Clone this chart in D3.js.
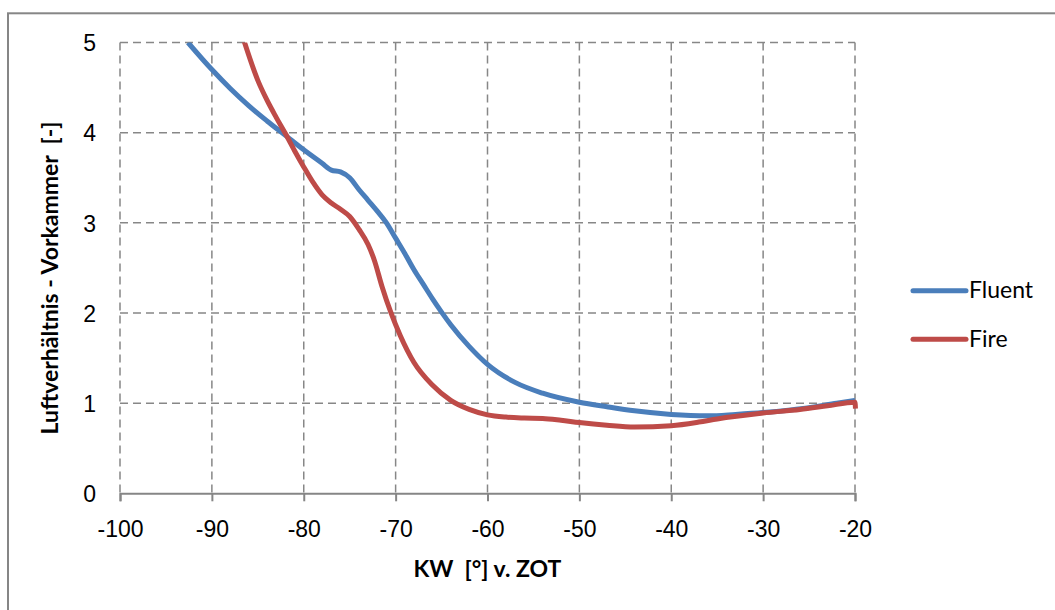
<!DOCTYPE html>
<html>
<head>
<meta charset="utf-8">
<script src="https://cdn.jsdelivr.net/npm/d3@7"></script>
<style>
  body { margin: 0; background: #fff; }
  svg { display: block; font-family: Lato, 'Open Sans', sans-serif; }
  .tick text { font-size: 23px; fill: #000; }
  .grid line { stroke: #878787; stroke-width: 1.5; stroke-dasharray: 8 5; }
  .legend text { font-size: 23px; }
  .title { font-size: 23px; font-weight: bold; white-space: pre; }
</style>
</head>
<body>
<svg id="chart"></svg>
<script>
// KW [deg] v. ZOT vs. Luftverhaeltnis
const fluent = [
  [-92.6, 5.0], [-90, 4.70], [-88, 4.49], [-86, 4.30], [-84, 4.13], [-82, 3.97],
  [-80, 3.81], [-78, 3.66], [-77, 3.585], [-76, 3.565], [-75, 3.50], [-74, 3.37],
  [-73, 3.25], [-72, 3.13], [-71, 3.00], [-70, 2.83], [-69, 2.66], [-68, 2.48],
  [-67, 2.32], [-66, 2.16], [-65, 2.01], [-64, 1.87], [-62, 1.63], [-60, 1.43],
  [-57, 1.23], [-54, 1.11], [-50, 1.01], [-47, 0.96], [-44, 0.915], [-40, 0.875],
  [-36, 0.86], [-33, 0.875], [-30, 0.895], [-27, 0.925], [-25, 0.95], [-22, 1.0],
  [-20, 1.03]
];
const fire = [
  [-86.6, 5.05], [-85, 4.58], [-84, 4.36], [-83, 4.17], [-82, 3.99], [-81, 3.80],
  [-80, 3.62], [-79, 3.45], [-78, 3.31], [-77, 3.22], [-76, 3.15], [-75, 3.07],
  [-74, 2.93], [-73, 2.76], [-72.3, 2.58], [-71.5, 2.30], [-70.5, 2.0],
  [-69.5, 1.75], [-68, 1.45], [-66, 1.20], [-64, 1.03], [-62, 0.93], [-60, 0.87],
  [-58, 0.845], [-56, 0.835], [-54, 0.83], [-52, 0.81], [-50, 0.785], [-47, 0.755],
  [-44, 0.735], [-40, 0.75], [-37, 0.79], [-35, 0.825], [-30, 0.89], [-26, 0.93],
  [-23, 0.97], [-20, 1.01], [-19.95, 0.94]
];
const xTicks = [-100, -90, -80, -70, -60, -50, -40, -30, -20];
const yTicks = [0, 1, 2, 3, 4, 5];
const seriesNames = ['Fluent', 'Fire'];
const seriesColors = ['#4a7ebb', '#be4b48'];

const W = 1055, H = 610;
const margin = { top: 42.5, right: 200, bottom: 116.7, left: 120 };
const width = W - margin.left - margin.right;
const height = H - margin.top - margin.bottom;

const svg = d3.select('#chart').attr('width', W).attr('height', H);

// outer frame (runs off the right and bottom edge)
svg.append('rect')
  .attr('x', 8).attr('y', 13.3)
  .attr('width', W + 20).attr('height', H + 20)
  .attr('fill', 'none').attr('stroke', '#868686').attr('stroke-width', 2);

const g = svg.append('g').attr('transform', `translate(${margin.left},${margin.top})`);

const x = d3.scaleLinear().domain([-100, -20]).range([0, width]);
const y = d3.scaleLinear().domain([0, 5]).range([height, 0]);

// grid
g.append('g').attr('class', 'grid')
  .selectAll('line').data(yTicks.filter(d => d > 0)).join('line')
  .attr('x1', 0).attr('x2', width)
  .attr('y1', d => y(d)).attr('y2', d => y(d));
g.append('g').attr('class', 'grid')
  .selectAll('line').data(xTicks).join('line')
  .attr('x1', d => x(d)).attr('x2', d => x(d))
  .attr('y1', 0).attr('y2', height);

// x axis
const axisX = d3.axisBottom(x).tickValues(xTicks).tickSize(8).tickPadding(19)
  .tickFormat(d => String(d));
const gx = g.append('g').attr('transform', `translate(0,${height})`).call(axisX);
gx.select('.domain').attr('stroke', '#868686').attr('stroke-width', 2);
gx.selectAll('.tick line').attr('stroke', '#868686').attr('stroke-width', 2);

// y axis labels only
const axisY = d3.axisLeft(y).tickValues(yTicks).tickSize(0).tickPadding(24)
  .tickFormat(d => String(d));
const gy = g.append('g').call(axisY);
gy.select('.domain').remove();
gy.selectAll('.tick text').attr('dy', '0.36em');

// titles
svg.append('text')
  .attr('class', 'title')
  .attr('x', margin.left + width / 2).attr('y', 577)
  .attr('text-anchor', 'middle')
  .text('KW  [°] v. ZOT');
svg.append('text')
  .attr('class', 'title')
  .attr('transform', 'translate(58,278) rotate(-90)')
  .attr('text-anchor', 'middle')
  .text('Luftverhältnis - Vorkammer  [-]');

// lines
g.append('clipPath').attr('id', 'clip')
  .append('rect').attr('x', -10).attr('y', 0).attr('width', width + 20).attr('height', height + 10);

const line = d3.line()
  .x(d => x(d[0]))
  .y(d => y(d[1]))
  .curve(d3.curveMonotoneX);

[fluent, fire].forEach((data, i) => {
  g.append('path')
    .datum(data)
    .attr('clip-path', 'url(#clip)')
    .attr('fill', 'none')
    .attr('stroke', seriesColors[i])
    .attr('stroke-width', 5)
    .attr('stroke-linejoin', 'round')
    .attr('d', line);
});

// legend
const legend = svg.append('g').attr('class', 'legend');
seriesNames.forEach((name, i) => {
  const ly = 290.7 + i * 48.6;
  legend.append('line')
    .attr('x1', 913).attr('x2', 966)
    .attr('y1', ly).attr('y2', ly)
    .attr('stroke', seriesColors[i]).attr('stroke-width', 5)
    .attr('stroke-linecap', 'round');
  legend.append('text')
    .attr('x', 969).attr('y', ly + 7.5)
    .text(name);
});
</script>
</body>
</html>
